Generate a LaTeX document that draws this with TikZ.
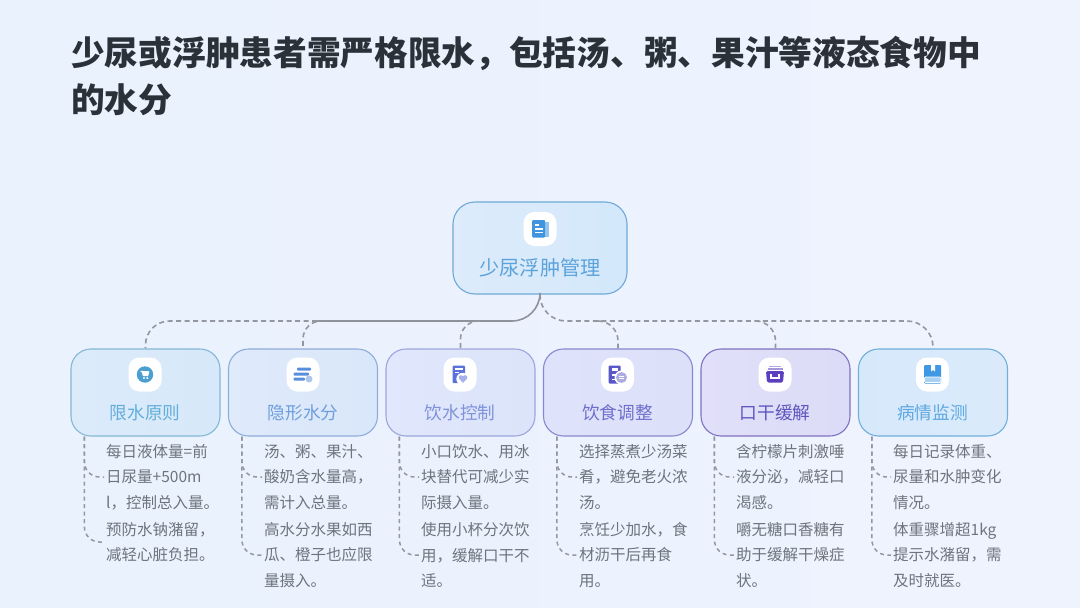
\documentclass[tikz,border=0pt]{standalone}
\usepackage{fontspec}
\setmainfont{Noto Sans CJK SC}
\usetikzlibrary{calc}
\definecolor{bgA}{HTML}{E9F2FD}
\definecolor{bgB}{HTML}{EFF3FE}
\definecolor{titlec}{HTML}{2B3138}
\definecolor{bodyc}{HTML}{6E747C}
\definecolor{linkc}{HTML}{93979F}
\definecolor{solidc}{HTML}{8E929A}
\definecolor{rootL}{HTML}{DDEBFB}\definecolor{rootR}{HTML}{D3E8FB}\definecolor{rootD}{HTML}{6FA9D6}\definecolor{rootT}{HTML}{5CA3DC}
\definecolor{aL}{HTML}{DCEBFA}\definecolor{aR}{HTML}{D6E8F9}\definecolor{aD}{HTML}{85B7D6}\definecolor{aT}{HTML}{62AEDA}
\definecolor{bL}{HTML}{DFEAFB}\definecolor{bR}{HTML}{D9E7FA}\definecolor{bD}{HTML}{8FACDB}\definecolor{bT}{HTML}{6F9EDD}
\definecolor{cL}{HTML}{E1E7FC}\definecolor{cR}{HTML}{DBE4FA}\definecolor{cD}{HTML}{9CA6DC}\definecolor{cT}{HTML}{7F92DA}
\definecolor{dL}{HTML}{DEE2FA}\definecolor{dR}{HTML}{DCE0F9}\definecolor{dD}{HTML}{8A88CE}\definecolor{dT}{HTML}{6E6FCC}
\definecolor{eL}{HTML}{E1DFF9}\definecolor{eR}{HTML}{DCDCF8}\definecolor{eD}{HTML}{7F72C0}\definecolor{eT}{HTML}{5F55BE}
\definecolor{fL}{HTML}{D6E9FB}\definecolor{fR}{HTML}{DAEAFB}\definecolor{fD}{HTML}{71AEDA}\definecolor{fT}{HTML}{5FA8E2}
\definecolor{icroot}{HTML}{3F95DE}
\definecolor{ica}{HTML}{4A9FD0}
\definecolor{icb}{HTML}{5A8EDC}
\definecolor{icc}{HTML}{5A72DC}
\definecolor{icd}{HTML}{5A58C8}
\definecolor{ice}{HTML}{5B3FC0}
\definecolor{icf}{HTML}{3F98E4}
\tikzset{
  x=1pt,y=-1pt,
  rootbox/.style={draw=rootD,line width=1.1pt,left color=rootL,right color=rootR,rounded corners=22pt,minimum width=174pt,minimum height=92pt,inner sep=0pt},
  kidbox/.style n args={3}{draw=#3,line width=1.1pt,left color=#1,right color=#2,rounded corners=20pt,minimum width=149pt,minimum height=87pt,inner sep=0pt},
  rootlabel/.style={inner sep=0pt,text=rootT,font=\fontsize{20.2}{24}\selectfont},
  kidlabel/.style={inner sep=0pt,font=\fontsize{17.7}{21}\selectfont},
  iconbg/.style={fill=white,rounded corners=11pt,minimum width=33pt,minimum height=34pt,inner sep=0pt},
  item/.style={anchor=west,align=left,inner xsep=2pt,inner ysep=0pt,text=bodyc,font=\fontsize{15.5}{25.3}\selectfont},
  titletext/.style={anchor=west,inner sep=0pt,text=titlec,font=\fontsize{33.7}{47}\selectfont\bfseries},
  dashlink/.style={draw=linkc,line width=1.6pt,dash pattern=on 5pt off 3.5pt},
  solidlink/.style={draw=solidc,line width=1.6pt},
  branch/.style={draw=linkc,line width=1.5pt,dash pattern=on 4pt off 3.5pt,rounded corners=15pt},
}
\begin{document}
\begin{tikzpicture}
\useasboundingbox (0,0) rectangle (1080,608);
\shade[left color=bgA,right color=bgB] (0,0) rectangle (1080,608);

\node[titletext] (t1) at (71,53) {少尿或浮肿患者需严格限水，包括汤、粥、果汁等液态食物中};
\node[titletext] (t2) at (71,100) {的水分};

\node[rootbox] (root) at (540,248) {};
\node[kidbox={aL}{aR}{aD}] (b1) at (145.5,392.5) {};
\node[kidbox={bL}{bR}{bD}] (b2) at (303,392.5) {};
\node[kidbox={cL}{cR}{cD}] (b3) at (460.5,392.5) {};
\node[kidbox={dL}{dR}{dD}] (b4) at (618,392.5) {};
\node[kidbox={eL}{eR}{eD}] (b5) at (775.5,392.5) {};
\node[kidbox={fL}{fR}{fD}] (b6) at (933,392.5) {};

\node[rootlabel] (rl) at (540,268) {少尿浮肿管理};
\node[kidlabel,text=aT] (l1) at (145,413) {限水原则};
\node[kidlabel,text=bT] (l2) at (303,413) {隐形水分};
\node[kidlabel,text=cT] (l3) at (460,413) {饮水控制};
\node[kidlabel,text=dT] (l4) at (617.5,413) {饮食调整};
\node[kidlabel,text=eT] (l5) at (775,413) {口干缓解};
\node[kidlabel,text=fT] (l6) at (932.5,413) {病情监测};

% bus
\coordinate (bus) at (540,321);
\coordinate (busturn) at ($(b2.north |- bus)+(14,0)$);
\draw[solidlink,rounded corners=28pt] (root.south) -- (root.south |- bus) -- (busturn);
\draw[dashlink,rounded corners=24pt] (busturn) -- (b1.north |- bus) -- (b1.north);
\draw[dashlink,rounded corners=18pt] (busturn) -- (b2.north |- bus) -- (b2.north);
\draw[dashlink,rounded corners=18pt] ($(b3.north |- bus)+(20,0)$) -- (b3.north |- bus) -- (b3.north);
\draw[dashlink,rounded corners=26pt] (root.south) -- (root.south |- bus) -- (b6.north |- bus) -- (b6.north);
\draw[dashlink,rounded corners=20pt] ($(b4.north |- bus)+(-20,0)$) -- (b4.north |- bus) -- (b4.north);
\draw[dashlink,rounded corners=20pt] ($(b5.north |- bus)+(-20,0)$) -- (b5.north |- bus) -- (b5.north);

% items
\node[item] (i1a) at (104,477) {每日液体量=前\\日尿量+500m\\l，控制总入量。};
\node[item] (i1b) at (104,542) {预防水钠潴留，\\减轻心脏负担。};
\node[item] (i2a) at (262,477) {汤、粥、果汁、\\酸奶含水量高，\\需计入总量。};
\node[item] (i2b) at (262,555) {高水分水果如西\\瓜、橙子也应限\\量摄入。};
\node[item] (i3a) at (419,477) {小口饮水、用冰\\块替代可减少实\\际摄入量。};
\node[item] (i3b) at (419,555) {使用小杯分次饮\\用，缓解口干不\\适。};
\node[item] (i4a) at (577,477) {选择蒸煮少汤菜\\肴，避免老火浓\\汤。};
\node[item] (i4b) at (577,555) {烹饪少加水，食\\材沥干后再食\\用。};
\node[item] (i5a) at (734,477) {含柠檬片刺激唾\\液分泌，减轻口\\渴感。};
\node[item] (i5b) at (734,555) {嚼无糖口香糖有\\助于缓解干燥症\\状。};
\node[item] (i6a) at (891,477) {每日记录体重、\\尿量和水肿变化\\情况。};
\node[item] (i6b) at (891,555) {体重骤增超1kg\\提示水潴留，需\\及时就医。};

\foreach \k in {1,...,6}{
  \coordinate (tr\k) at ($(b\k.south west)+(14,0)$);
  \draw[branch] (tr\k) |- (i\k b.west);
  \draw[branch] (tr\k) |- (i\k a.west);
}

% icon tiles
\node[iconbg] (ic0) at (540,229) {};
\node[iconbg] (ic1) at (145,374.5) {};
\node[iconbg] (ic2) at (303,374.5) {};
\node[iconbg] (ic3) at (460,374.5) {};
\node[iconbg] (ic4) at (617.5,374.5) {};
\node[iconbg] (ic5) at (775,374.5) {};
\node[iconbg] (ic6) at (932.5,374.5) {};

% root icon: document
\begin{scope}[shift={(ic0.center)}]
  \fill[icroot!55!white] (5,-7) rectangle (8.5,8);
  \fill[icroot,rounded corners=1pt] (-8,-9) rectangle (5,8.5);
  \fill[white] (-5.5,-5.5) rectangle (-1,-3.5);
  \fill[white] (-5.5,-0.8) rectangle (3,0.6);
  \fill[white] (-5.5,2.6) rectangle (3,4);
\end{scope}
% icon 1: cart in a disc
\begin{scope}[shift={(ic1.center)}]
  \fill[ica] (0,0) circle (8.2);
  \fill[white] (-4.2,-3.6) -- (4.4,-3.2) -- (3.2,1.6) -- (-2.2,1.6) -- (-3,-2.2) -- (-4.6,-2.4) -- cycle;
  \fill[white] (-1,3.5) circle (1.2);
  \fill[white] (2.3,3.5) circle (1.2);
\end{scope}
% icon 2: stripes and dot
\begin{scope}[shift={(ic2.center)}]
  \fill[icb,rounded corners=1pt] (-6,-7) rectangle (8,-4);
  \fill[icb,rounded corners=1pt] (-9.5,-2) rectangle (6,1);
  \fill[icb,rounded corners=1pt] (-9.5,3) rectangle (2,6);
  \fill[icb!50!white] (6,4.5) circle (3.5);
\end{scope}
% icon 3: sheet and heart
\begin{scope}[shift={(ic3.center)}]
  \fill[icc,rounded corners=1pt] (-7.5,-9) rectangle (5,8.5);
  \fill[white] (-5.5,-6.5) rectangle (2.5,-5);
  \fill[white] (-5.5,-3) rectangle (-1,-1.5);
  \fill[white] (2.5,4.5) circle (6.2);
  \fill[icc!55!white] (1,3) circle (2.3);
  \fill[icc!55!white] (5,3) circle (2.3);
  \fill[icc!55!white] (-1,4) -- (7,4) -- (3,8.5) -- cycle;
\end{scope}
% icon 4: list with speech disc
\begin{scope}[shift={(ic4.center)}]
  \fill[icd,rounded corners=1pt] (-9,-9) rectangle (3,9);
  \fill[white] (-6,-6.5) rectangle (0.5,-3.5);
  \fill[white] (-6,-0.5) rectangle (-2,1);
  \fill[white] (-6,4) rectangle (-2,5.5);
  \fill[white] (4,3) circle (7);
  \fill[icd!50!white] (4,3) circle (5.5);
  \fill[white] (1.5,1.8) rectangle (6.5,2.6);
  \fill[white] (1.5,3.8) rectangle (6.5,4.6);
\end{scope}
% icon 5: tray
\begin{scope}[shift={(ic5.center)}]
  \fill[ice!45!white] (-6,-9) rectangle (6,-7.5);
  \fill[ice!55!white] (-7.5,-6.5) rectangle (7.5,-4.5);
  \fill[ice,rounded corners=1.5pt] (-9,-3.5) -- (9,-3.5) -- (8,8) -- (-8,8) -- cycle;
  \draw[white,line width=1.4pt] (-4,-1) -- (-4,3.5) -- (4,3.5) -- (4,-1);
\end{scope}
% icon 6: book
\begin{scope}[shift={(ic6.center)}]
  \fill[icf,rounded corners=1pt] (-8.5,-9.5) rectangle (8.5,9);
  \fill[white] (-1.5,-10) -- (2.5,-10) -- (2.5,-3) -- (0.5,-4.5) -- (-1.5,-3) -- cycle;
  \fill[icf!45!white,draw=white,line width=0.7pt,rounded corners=1pt] (-8,2.5) rectangle (8.5,8);
\end{scope}
\end{tikzpicture}
\end{document}
